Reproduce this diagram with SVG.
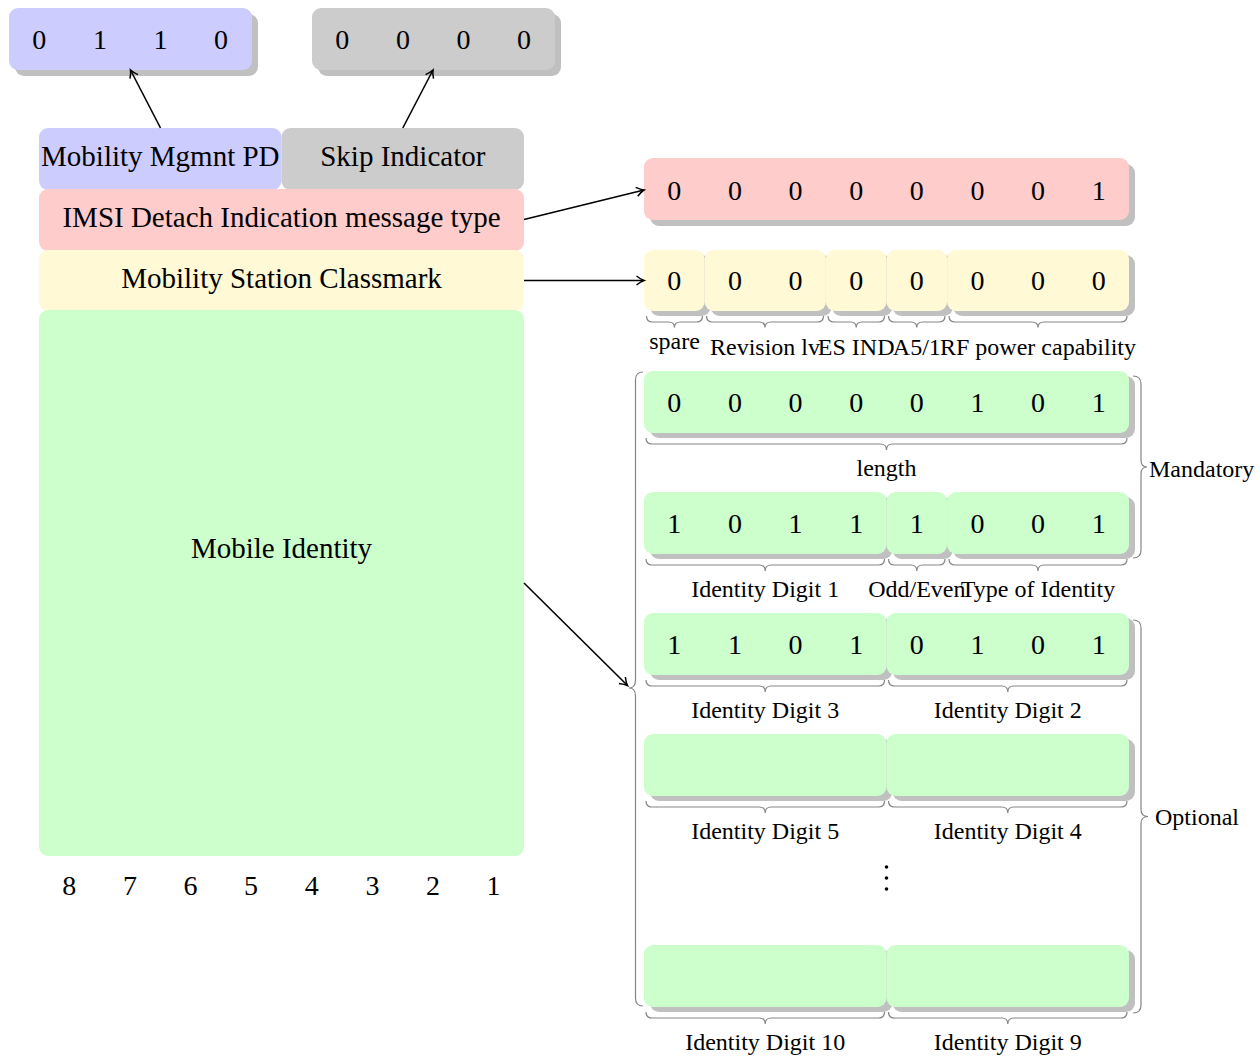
<svg xmlns="http://www.w3.org/2000/svg" width="1260" height="1060" viewBox="0 0 1260 1060">
<style>
text{font-family:"Liberation Serif","Times New Roman",serif;fill:#000}
.lbl{font-size:29px;text-anchor:middle}
.dig{font-size:28px;text-anchor:middle}
.sm{font-size:24px;text-anchor:middle}
.side{font-size:24px;text-anchor:start}
.sh{fill:#c0c0c0}
.blue{fill:#ccccff}.gray{fill:#cccccc}.pink{fill:#ffcccc}.yel{fill:#fff9d6}.grn{fill:#ccffcc}
.brace{fill:none;stroke:#858585;stroke-width:1.2}
.conn{fill:none;stroke:#000;stroke-width:1.6;marker-end:url(#arr)}
</style>
<defs>
<marker id="arr" markerUnits="userSpaceOnUse" markerWidth="14" markerHeight="14" refX="0" refY="0" viewBox="-10 -7 14 14" orient="auto" overflow="visible">
<path d="M-7.5,-4.5 Q-3,-1 0,0 Q-3,1 -7.5,4.5" fill="none" stroke="#000" stroke-width="1.5"/>
</marker>
</defs>
<rect width="1260" height="1060" fill="#fff"/>

<g id="pd-bits">
<rect class="sh" x="15" y="14" width="243" height="62" rx="9"/>
<rect class="blue" x="9" y="8" width="243" height="62" rx="9"/>
<text class="dig" x="39.3" y="49">0</text><text class="dig" x="99.9" y="49">1</text><text class="dig" x="160.5" y="49">1</text><text class="dig" x="221.1" y="49">0</text>
</g>
<g id="skip-bits">
<rect class="sh" x="318" y="14" width="243" height="62" rx="9"/>
<rect class="gray" x="312" y="8" width="243" height="62" rx="9"/>
<text class="dig" x="342.3" y="49">0</text><text class="dig" x="402.9" y="49">0</text><text class="dig" x="463.5" y="49">0</text><text class="dig" x="524.1" y="49">0</text>
</g>

<g id="mm-pd">
<rect class="blue" x="39" y="128" width="242.5" height="62" rx="9"/>
<text class="lbl" x="160.3" y="166">Mobility Mgmnt PD</text>
</g>
<g id="skip">
<rect class="gray" x="281.5" y="128" width="242.5" height="62" rx="9"/>
<text class="lbl" x="402.8" y="166">Skip Indicator</text>
</g>
<g id="imsi">
<rect class="pink" x="39" y="189" width="485" height="62" rx="9"/>
<text class="lbl" x="281.5" y="227">IMSI Detach Indication message type</text>
</g>
<g id="classmark">
<rect class="yel" x="39" y="250" width="485" height="61" rx="9"/>
<text class="lbl" x="281.5" y="288">Mobility Station Classmark</text>
</g>
<g id="mobile-identity">
<rect class="grn" x="39" y="310" width="485" height="546" rx="9"/>
<text class="lbl" x="281.5" y="558">Mobile Identity</text>
</g>
<g id="bit-numbers">
<text class="dig" x="69.3" y="895">8</text><text class="dig" x="129.9" y="895">7</text><text class="dig" x="190.5" y="895">6</text><text class="dig" x="251.1" y="895">5</text><text class="dig" x="311.8" y="895">4</text><text class="dig" x="372.4" y="895">3</text><text class="dig" x="433" y="895">2</text><text class="dig" x="493.6" y="895">1</text>
</g>

<g id="imsi-bits">
<rect class="sh" x="650" y="164" width="485" height="62" rx="9"/>
<rect class="pink" x="644" y="158" width="485" height="62" rx="9"/>
<text class="dig" x="674.3" y="200">0</text><text class="dig" x="734.9" y="200">0</text><text class="dig" x="795.5" y="200">0</text><text class="dig" x="856.2" y="200">0</text><text class="dig" x="916.8" y="200">0</text><text class="dig" x="977.4" y="200">0</text><text class="dig" x="1038" y="200">0</text><text class="dig" x="1098.7" y="200">1</text>
</g>

<g id="classmark-bits">
<rect class="sh" x="650" y="255" width="60.6" height="61" rx="9"/>
<rect class="sh" x="710.6" y="255" width="121.3" height="61" rx="9"/>
<rect class="sh" x="831.9" y="255" width="60.6" height="61" rx="9"/>
<rect class="sh" x="892.5" y="255" width="60.6" height="61" rx="9"/>
<rect class="sh" x="953.1" y="255" width="181.9" height="61" rx="9"/>
<rect class="yel" x="644" y="250" width="60.6" height="61" rx="9"/>
<rect class="yel" x="704.6" y="250" width="121.3" height="61" rx="9"/>
<rect class="yel" x="825.9" y="250" width="60.6" height="61" rx="9"/>
<rect class="yel" x="886.5" y="250" width="60.6" height="61" rx="9"/>
<rect class="yel" x="947.1" y="250" width="181.9" height="61" rx="9"/>
<text class="dig" x="674.3" y="290">0</text><text class="dig" x="734.9" y="290">0</text><text class="dig" x="795.5" y="290">0</text><text class="dig" x="856.2" y="290">0</text><text class="dig" x="916.8" y="290">0</text><text class="dig" x="977.4" y="290">0</text><text class="dig" x="1038" y="290">0</text><text class="dig" x="1098.7" y="290">0</text>
<path class="brace" d="M646.5,316 Q646.5,322 652.5,322 H668.5 Q674.5,322 674.5,327.5 Q674.5,322 680.5,322 H696.5 Q702.5,322 702.5,316"/>
<path class="brace" d="M706.5,316 Q706.5,322 712.5,322 H759 Q765,322 765,327.5 Q765,322 771,322 H817.5 Q823.5,322 823.5,316"/>
<path class="brace" d="M828,316 Q828,322 834,322 H850.2 Q856.2,322 856.2,327.5 Q856.2,322 862.2,322 H878.5 Q884.5,322 884.5,316"/>
<path class="brace" d="M888.5,316 Q888.5,322 894.5,322 H910.8 Q916.8,322 916.8,327.5 Q916.8,322 922.8,322 H939 Q945,322 945,316"/>
<path class="brace" d="M949,316 Q949,322 955,322 H1032 Q1038,322 1038,327.5 Q1038,322 1044,322 H1121 Q1127,322 1127,316"/>
<text class="sm" x="674.5" y="349">spare</text>
<text class="sm" x="765" y="355">Revision lv</text>
<text class="sm" x="856.2" y="355">ES IND</text>
<text class="sm" x="916.8" y="355">A5/1</text>
<text class="sm" x="1038" y="355">RF power capability</text>
</g>

<g id="length-octet">
<rect class="sh" x="650" y="376" width="485" height="62" rx="9"/>
<rect class="grn" x="644" y="371" width="485" height="62" rx="9"/>
<text class="dig" x="674.3" y="412">0</text><text class="dig" x="734.9" y="412">0</text><text class="dig" x="795.5" y="412">0</text><text class="dig" x="856.2" y="412">0</text><text class="dig" x="916.8" y="412">0</text><text class="dig" x="977.4" y="412">1</text><text class="dig" x="1038" y="412">0</text><text class="dig" x="1098.7" y="412">1</text>
<path class="brace" d="M646,438 Q646,444 652,444 H880.5 Q886.5,444 886.5,450 Q886.5,444 892.5,444 H1121 Q1127,444 1127,438"/>
<text class="sm" x="886.5" y="476">length</text>
</g>

<g id="octet-digit1">
<rect class="sh" x="650" y="497" width="242.5" height="62" rx="9"/>
<rect class="sh" x="892.5" y="497" width="60.6" height="62" rx="9"/>
<rect class="sh" x="953.1" y="497" width="181.9" height="62" rx="9"/>
<rect class="grn" x="644" y="492" width="242.5" height="62" rx="9"/>
<rect class="grn" x="886.5" y="492" width="60.6" height="62" rx="9"/>
<rect class="grn" x="947.1" y="492" width="181.9" height="62" rx="9"/>
<text class="dig" x="674.3" y="533">1</text><text class="dig" x="734.9" y="533">0</text><text class="dig" x="795.5" y="533">1</text><text class="dig" x="856.2" y="533">1</text><text class="dig" x="916.8" y="533">1</text><text class="dig" x="977.4" y="533">0</text><text class="dig" x="1038" y="533">0</text><text class="dig" x="1098.7" y="533">1</text>
<path class="brace" d="M646,559 Q646,565 652,565 H759.2 Q765.2,565 765.2,571 Q765.2,565 771.2,565 H878.5 Q884.5,565 884.5,559"/>
<path class="brace" d="M888.5,559 Q888.5,565 894.5,565 H910.8 Q916.8,565 916.8,571 Q916.8,565 922.8,565 H939 Q945,565 945,559"/>
<path class="brace" d="M949,559 Q949,565 955,565 H1032 Q1038,565 1038,571 Q1038,565 1044,565 H1121 Q1127,565 1127,559"/>
<text class="sm" x="765.2" y="597">Identity Digit 1</text>
<text class="sm" x="916.8" y="597">Odd/Even</text>
<text class="sm" x="1038" y="597">Type of Identity</text>
</g>

<g id="octet-digit3-2">
<rect class="sh" x="650" y="618" width="242.5" height="62" rx="9"/>
<rect class="sh" x="892.5" y="618" width="242.5" height="62" rx="9"/>
<rect class="grn" x="644" y="613" width="242.5" height="62" rx="9"/>
<rect class="grn" x="886.5" y="613" width="242.5" height="62" rx="9"/>
<text class="dig" x="674.3" y="654">1</text><text class="dig" x="734.9" y="654">1</text><text class="dig" x="795.5" y="654">0</text><text class="dig" x="856.2" y="654">1</text><text class="dig" x="916.8" y="654">0</text><text class="dig" x="977.4" y="654">1</text><text class="dig" x="1038" y="654">0</text><text class="dig" x="1098.7" y="654">1</text>
<path class="brace" d="M646,680 Q646,686 652,686 H759.2 Q765.2,686 765.2,692 Q765.2,686 771.2,686 H878.5 Q884.5,686 884.5,680"/>
<path class="brace" d="M888.5,680 Q888.5,686 894.5,686 H1001.8 Q1007.8,686 1007.8,692 Q1007.8,686 1013.8,686 H1121 Q1127,686 1127,680"/>
<text class="sm" x="765.2" y="718">Identity Digit 3</text>
<text class="sm" x="1007.8" y="718">Identity Digit 2</text>
</g>

<g id="octet-digit5-4">
<rect class="sh" x="650" y="739" width="242.5" height="62" rx="9"/>
<rect class="sh" x="892.5" y="739" width="242.5" height="62" rx="9"/>
<rect class="grn" x="644" y="734" width="242.5" height="62" rx="9"/>
<rect class="grn" x="886.5" y="734" width="242.5" height="62" rx="9"/>
<path class="brace" d="M646,801 Q646,807 652,807 H759.2 Q765.2,807 765.2,813 Q765.2,807 771.2,807 H878.5 Q884.5,807 884.5,801"/>
<path class="brace" d="M888.5,801 Q888.5,807 894.5,807 H1001.8 Q1007.8,807 1007.8,813 Q1007.8,807 1013.8,807 H1121 Q1127,807 1127,801"/>
<text class="sm" x="765.2" y="839">Identity Digit 5</text>
<text class="sm" x="1007.8" y="839">Identity Digit 4</text>
</g>

<g id="vdots">
<circle cx="886.5" cy="867" r="1.8"/><circle cx="886.5" cy="878" r="1.8"/><circle cx="886.5" cy="889" r="1.8"/>
</g>

<g id="octet-digit10-9">
<rect class="sh" x="650" y="950" width="242.5" height="62" rx="9"/>
<rect class="sh" x="892.5" y="950" width="242.5" height="62" rx="9"/>
<rect class="grn" x="644" y="945" width="242.5" height="62" rx="9"/>
<rect class="grn" x="886.5" y="945" width="242.5" height="62" rx="9"/>
<path class="brace" d="M646,1012 Q646,1018 652,1018 H759.2 Q765.2,1018 765.2,1024 Q765.2,1018 771.2,1018 H878.5 Q884.5,1018 884.5,1012"/>
<path class="brace" d="M888.5,1012 Q888.5,1018 894.5,1018 H1001.8 Q1007.8,1018 1007.8,1024 Q1007.8,1018 1013.8,1018 H1121 Q1127,1018 1127,1012"/>
<text class="sm" x="765.2" y="1050">Identity Digit 10</text>
<text class="sm" x="1007.8" y="1050">Identity Digit 9</text>
</g>

<g id="group-braces">
<path class="brace" d="M643,372 Q635.5,372 635.5,380 V680 Q635.5,688 629,688 Q635.5,688 635.5,696 V998 Q635.5,1006 643,1006"/>
<path class="brace" d="M1133,376 Q1141,376 1141,384 V460 Q1141,467 1147,467 Q1141,467 1141,474 V550 Q1141,558 1133,558"/>
<text class="side" x="1149" y="477">Mandatory</text>
<path class="brace" d="M1133,620 Q1141,620 1141,628 V809.5 Q1141,816.5 1148,816.5 Q1141,816.5 1141,823.5 V1005 Q1141,1013 1133,1013"/>
<text class="side" x="1155" y="825">Optional</text>
</g>

<g id="connectors">
<path class="conn" d="M160.5,128 L130.5,70"/>
<path class="conn" d="M402.8,128 L433,70"/>
<path class="conn" d="M524,219.5 L644,190"/>
<path class="conn" d="M524,280.5 L644,280.5"/>
<path class="conn" d="M524,583 L627.5,685.5"/>
</g>
</svg>
